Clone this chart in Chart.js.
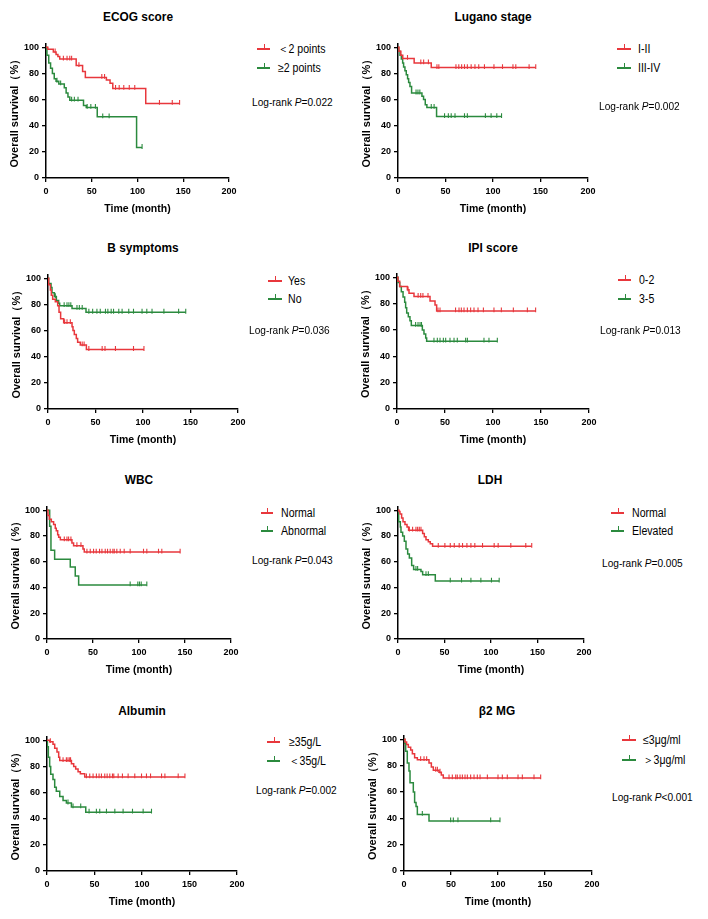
<!DOCTYPE html>
<html>
<head>
<meta charset="utf-8">
<script src="https://cdn.jsdelivr.net/npm/chart.js@4.4.0/dist/chart.umd.min.js"></script>
<style>
  body { margin: 0; background: #fff; font-family: "Liberation Sans", Arial, sans-serif; }
  #fig { position: relative; width: 708px; height: 919px; overflow: hidden; background: #fff; }
  canvas { position: absolute; }
  .t { position: absolute; white-space: nowrap; color: #000; line-height: 1; }
  .ttl { font-weight: bold; font-size: 13.5px; transform: translate(-50%, -50%) scaleX(.88); }
  .lg { font-size: 12px; transform: translateY(-50%) scaleX(.88); transform-origin: left center; }
  .lr { font-size: 11.5px; transform: translateY(-50%) scaleX(.88); transform-origin: left center; }
  .mk { position: absolute; height: 1.5px; }
  .mk i { position: absolute; left: 50%; top: -4px; width: 1.2px; height: 4px; }
</style>
</head>
<body>
<div id="fig"></div>
<script>
// ---- data: event times (month), survival (%) after each event, censor times ----
const ecogLowT = [2, 8, 11, 13, 15, 33, 40, 43, 66, 70, 73, 109];
const ecogLowS = [98.5, 96.5, 94.5, 93, 91, 86, 81.5, 77, 75, 72.5, 68.5, 57];
const ecogLowC = [10, 19, 23, 26, 28, 36, 61, 64, 76, 80, 85, 91, 97, 124, 138, 146];
const ecogHighT = [1, 3, 5, 7, 9, 11, 14, 20, 22, 24, 26, 41, 44, 56, 99];
const ecogHighS = [94, 88, 84, 80, 76, 74, 72, 69, 65, 62, 59.5, 55.5, 54, 46.8, 23.3];
const ecogHighC = [12, 16, 28, 31, 35, 45, 49, 54, 62, 69, 105];

const lugEarlyT = [1, 3, 5, 17, 35];
const lugEarlyS = [97, 94, 91.5, 88, 84.5];
const lugEarlyC = [10, 24, 27, 32, 41, 43, 61, 64, 67, 70, 73, 77, 81, 85, 91, 101, 110, 121, 124, 138, 145];
const lugLateT = [0.7, 2.1, 3.5, 4.9, 5.9, 7.3, 8.7, 10.1, 11.2, 12.6, 14.3, 25.2, 26.9, 28.7, 30.4, 40.6];
const lugLateS = [97, 94, 91, 88, 85, 82, 79, 76, 73, 70, 65, 62.5, 60, 56, 54, 47];
const lugLateC = [19, 21, 23, 35, 38, 49, 53, 56, 60, 70, 73, 92, 98, 104, 109];

const bYesT = [0.7, 2.5, 3.5, 4.9, 7.7, 10.2, 11.6, 13.3, 16.5, 25.3, 26.3, 27.7, 29.8, 31.2, 34, 40.4];
const bYesS = [95, 91, 87, 84, 82, 79, 74, 69, 66, 63, 60, 57, 54, 51, 49, 45.5];
const bYesC = [17.5, 20, 23.5, 36, 38, 43, 57, 60, 71, 90, 101];
const bNoT = [0.7, 3.2, 4.2, 6.7, 8.8, 11.2, 12.3, 25.3, 40];
const bNoS = [96, 93, 89, 86, 83, 81, 79, 77, 74];
const bNoC = [7.7, 17, 20, 22, 24, 30.5, 33, 36, 43, 47, 51.5, 55, 60.5, 63, 66.5, 69, 74.5, 78, 85, 90, 99, 104, 109.5, 122, 137.5, 145];

const ipiLowT = [1, 2.8, 10.8, 12.5, 17.7, 34.4, 39.6, 41.3];
const ipiLowS = [97, 93, 90.5, 88, 85.5, 82, 79, 74.5];
const ipiLowC = [11.5, 22, 24.7, 27, 32.3, 42.7, 44.8, 61, 64.6, 67, 69.8, 73.3, 76.7, 80.2, 84.4, 90, 101, 108.7, 121.2, 135.8, 144.4];
const ipiHighT = [1, 2.8, 4.5, 6.3, 8, 9, 10.1, 11.8, 13.5, 14.9, 26.4, 28.1, 29.9, 30.9];
const ipiHighS = [96, 93, 89, 85, 81, 77, 73, 70, 67, 63.5, 60, 57, 54, 51.5];
const ipiHighC = [19.4, 21.9, 24, 25.5, 38.5, 42, 44.8, 48.3, 50.7, 55.2, 59.4, 62.8, 71.5, 73.3, 90.6, 95.8, 104.5];

const wbcNormT = [1.1, 2.5, 4.7, 7.2, 9, 10.1, 11.6, 12.7, 14.5, 27.1, 28.9, 39.1, 40.5];
const wbcNormS = [96, 93, 91, 89, 86, 84, 81, 79, 77, 74.5, 72.5, 70, 67.5];
const wbcNormC = [18.8, 21.7, 23.5, 26, 32.5, 36.9, 43.4, 47, 50.6, 53.5, 57.1, 59.7, 63.3, 65.8, 68.7, 71.6, 73.1, 75.9, 79.6, 83.9, 90.4, 104.9, 108.5, 121.2, 124.8, 144.7];
const wbcAbnT = [2.9, 4.3, 8.3, 25.3, 30.7, 34.4];
const wbcAbnS = [87.5, 69, 62, 56, 49, 42];
const wbcAbnC = [90.4, 98.7, 100.5, 102.4, 108.5];

const ldhNormT = [1.1, 2.1, 3.9, 5.4, 7.5, 9.7, 11.4, 26.5, 28.3, 30.1, 32.6, 34.7, 37.2];
const ldhNormS = [99, 97, 94, 91, 89, 87, 84.5, 82, 79.5, 77, 75.5, 74, 72];
const ldhNormC = [12.2, 15.7, 19.3, 21.1, 22.9, 24.7, 43.3, 50.4, 56.2, 60.5, 65.8, 69.4, 74.1, 78.4, 82.6, 90.9, 103.4, 107.7, 121.3, 137.4, 143.8];
const ldhElevT = [0.4, 0.7, 2.5, 3.2, 5, 6.8, 8.6, 10.4, 12.2, 14.7, 16.8, 24.7, 26.5, 40.1];
const ldhElevS = [96, 91, 87, 83, 80, 76, 70, 66, 63, 57, 54, 52.5, 50, 45];
const ldhElevC = [19.3, 21.1, 30.1, 32.6, 56.2, 68.3, 78.4, 89.1, 100.5, 108.8];

const albHighT = [2.8, 6.3, 8.1, 10.5, 12.3, 13.4, 25.7, 28.1, 30.2, 32.7, 35.1, 39.7];
const albHighS = [99, 97, 94, 91, 87, 84.5, 82, 80, 78, 76, 74.5, 72];
const albHighC = [3.5, 16.9, 20.4, 22.1, 23.9, 24.8, 41.5, 45, 48.5, 52, 54.8, 57.3, 60.8, 63.3, 66.1, 68.9, 70.3, 74.9, 79.4, 85.4, 92.4, 99.5, 104.7, 109, 120.6, 124.1, 138.1, 145.2];
const albLowT = [0.4, 1.4, 2.8, 3.9, 6.3, 8.1, 9.8, 13.4, 16.9, 20.4, 25.7, 40.8];
const albLowS = [95, 87, 80, 74, 70, 64, 61, 57, 54, 52, 49, 45];
const albLowC = [22.1, 27.4, 35.5, 44.3, 52, 55.5, 62.6, 71.4, 80.1, 90, 101.2, 110];

const b2mLowT = [1.1, 2.8, 4.6, 7.1, 8.9, 11.3, 14.2, 26.6, 29.1, 31.2, 37.2, 39.7, 41.8];
const b2mLowS = [98, 96, 94, 92, 89, 86, 84.5, 82, 79, 76.5, 75, 73, 70.7];
const b2mLowC = [17.7, 21.3, 24.1, 33.7, 35.5, 38.3, 47.9, 51.4, 55, 56.7, 59.6, 62.1, 64.9, 67.4, 70.9, 74.5, 78, 80.9, 88.7, 100, 104.6, 109.9, 121.3, 125.9, 138.3, 145.4];
const b2mHighT = [0.7, 1.8, 3.5, 5.3, 6.4, 9.9, 11.3, 12.8, 14.2, 26.6];
const b2mHighS = [97, 91, 82, 76, 67, 60, 52, 49, 43, 38];
const b2mHighC = [19.5, 49.6, 52.5, 57.4, 92.2, 102.1];

const titles = ['ECOG score', 'Lugano stage', 'B symptoms', 'IPI score', 'WBC', 'LDH', 'Albumin', 'β2 MG'];
const groupLabels = [
  ['＜2 points', '≥2 points'], ['I-II', 'III-IV'], ['Yes', 'No'], ['0-2', '3-5'],
  ['Normal', 'Abnormal'], ['Normal', 'Elevated'], ['≥35g/L', '＜35g/L'], ['≤3μg/ml', '＞3μg/ml']
];
const pValues = ['=0.022', '=0.002', '=0.036', '=0.013', '=0.043', '=0.005', '=0.002', '<0.001'];
const series = [
  [[ecogLowT, ecogLowS, ecogLowC], [ecogHighT, ecogHighS, ecogHighC]],
  [[lugEarlyT, lugEarlyS, lugEarlyC], [lugLateT, lugLateS, lugLateC]],
  [[bYesT, bYesS, bYesC], [bNoT, bNoS, bNoC]],
  [[ipiLowT, ipiLowS, ipiLowC], [ipiHighT, ipiHighS, ipiHighC]],
  [[wbcNormT, wbcNormS, wbcNormC], [wbcAbnT, wbcAbnS, wbcAbnC]],
  [[ldhNormT, ldhNormS, ldhNormC], [ldhElevT, ldhElevS, ldhElevC]],
  [[albHighT, albHighS, albHighC], [albLowT, albLowS, albLowC]],
  [[b2mLowT, b2mLowS, b2mLowC], [b2mHighT, b2mHighS, b2mHighC]]
];
const xTicks = [0, 50, 100, 150, 200];
const yTicks = [0, 20, 40, 60, 80, 100];

// ---- layout (page pixels) ----
const layout = [
  { x0: 46, x200: 229, y100: 47, y0: 178, tx: 138, ty: 17, l1: 257, l2: 270, ly: [49, 68], lt: 278, rx: 252, ry: 103 },
  { x0: 398, x200: 588, y100: 47, y0: 178, tx: 493, ty: 17, l1: 617, l2: 631, ly: [49, 68], lt: 638, rx: 599, ry: 107 },
  { x0: 48, x200: 238, y100: 278, y0: 409, tx: 143, ty: 248, l1: 268, l2: 282, ly: [281, 299], lt: 288, rx: 249, ry: 331 },
  { x0: 397, x200: 589, y100: 277, y0: 409, tx: 493, ty: 248, l1: 618, l2: 631, ly: [280, 299], lt: 639, rx: 600, ry: 331 },
  { x0: 47, x200: 231, y100: 510, y0: 639, tx: 139, ty: 480, l1: 261, l2: 273, ly: [513, 531], lt: 281, rx: 252, ry: 561 },
  { x0: 398, x200: 584, y100: 510, y0: 639, tx: 490, ty: 480, l1: 611, l2: 624, ly: [513, 531], lt: 632, rx: 602, ry: 564 },
  { x0: 47, x200: 237, y100: 740, y0: 871, tx: 142, ty: 711, l1: 267, l2: 280, ly: [742, 761], lt: 289, rx: 256, ry: 791 },
  { x0: 404, x200: 592, y100: 739, y0: 871, tx: 497, ty: 711, l1: 622, l2: 636, ly: [740, 760], lt: 643, rx: 612, ry: 798 }
];

const RED = '#e8373c';
const GREEN = '#2b8a3e';
const COLORS = [RED, GREEN];
const Y_MAX = 103;

Chart.defaults.font.family = "'Liberation Sans', Arial, sans-serif";
Chart.defaults.color = '#000';

const fig = document.getElementById('fig');

function stepData(t, s, c) {
  const pts = [{ x: 0, y: 100 }];
  t.forEach((v, i) => pts.push({ x: v, y: s[i] }));
  const end = Math.max(c[c.length - 1], t[t.length - 1]);
  pts.push({ x: end, y: s[s.length - 1] });
  return pts;
}

function survAt(t, s, time) {
  let v = 100;
  t.forEach((e, i) => { if (e <= time) v = s[i]; });
  return v;
}

function addText(cls, html, x, y) {
  const d = document.createElement('div');
  d.className = 't ' + cls;
  d.innerHTML = html;
  d.style.left = x + 'px';
  d.style.top = y + 'px';
  fig.appendChild(d);
}

function drawPanel(i) {
  const g = layout[i];
  const pxU = (g.y0 - g.y100) / 100;
  const chartTop = g.y100 - (Y_MAX - 100) * pxU;
  const padTop = 8, padRight = 14, axisW = 42, axisH = 41;

  const cv = document.createElement('canvas');
  const w = Math.round(axisW + (g.x200 - g.x0) + padRight);
  const h = Math.round(padTop + (g.y0 - chartTop) + axisH);
  cv.width = w;
  cv.height = h;
  cv.style.left = (g.x0 - axisW) + 'px';
  cv.style.top = Math.round(chartTop - padTop) + 'px';
  fig.appendChild(cv);

  const datasets = [];
  series[i].forEach(([t, s, c], k) => {
    datasets.push({
      data: stepData(t, s, c),
      borderColor: COLORS[k],
      borderWidth: 1.5,
      stepped: true,
      pointRadius: 0,
      fill: false
    });
    datasets.push({
      data: c.map(v => ({ x: v, y: survAt(t, s, v) + 0.8 })),
      showLine: false,
      pointStyle: 'line',
      rotation: 90,
      pointRadius: 2.4,
      borderColor: COLORS[k],
      borderWidth: 1.1
    });
  });

  new Chart(cv, {
    type: 'line',
    data: { datasets },
    options: {
      responsive: false,
      animation: false,
      devicePixelRatio: 1,
      layout: { padding: { top: padTop, right: padRight, left: 0, bottom: 0 } },
      plugins: { legend: { display: false }, tooltip: { enabled: false } },
      scales: {
        x: {
          type: 'linear', min: 0, max: 200,
          afterBuildTicks: s => { s.ticks = xTicks.map(v => ({ value: v })); },
          afterFit: s => { s.height = axisH; },
          ticks: { font: { size: 9, weight: 'bold' }, padding: 4, maxRotation: 0 },
          grid: { drawOnChartArea: false, drawTicks: true, tickLength: 4, color: '#000', lineWidth: 1.3 },
          border: { color: '#000', width: 1.5 },
          title: { display: true, text: 'Time (month)', font: { size: 10.5, weight: 'bold' }, padding: { top: 4, bottom: 4 } }
        },
        y: {
          type: 'linear', min: 0, max: Y_MAX,
          afterBuildTicks: s => { s.ticks = yTicks.map(v => ({ value: v })); },
          afterFit: s => { s.width = axisW; },
          ticks: { font: { size: 9, weight: 'bold' }, padding: 3 },
          grid: { drawOnChartArea: false, drawTicks: true, tickLength: 4, color: '#000', lineWidth: 1.3 },
          border: { color: '#000', width: 1.5 },
          title: { display: true, text: 'Overall survival（%）', font: { size: 11, weight: 'bold' }, padding: { top: 4, bottom: 4 } }
        }
      }
    }
  });

  // title, legend, log-rank text
  addText('ttl', titles[i], g.tx, g.ty);
  groupLabels[i].forEach((lab, k) => {
    const m = document.createElement('div');
    m.className = 'mk';
    m.style.background = COLORS[k];
    m.style.left = g.l1 + 'px';
    m.style.top = (g.ly[k] - 0.75) + 'px';
    m.style.width = (g.l2 - g.l1) + 'px';
    const tick = document.createElement('i');
    tick.style.background = COLORS[k];
    m.appendChild(tick);
    fig.appendChild(m);
    addText('lg', lab, g.lt, g.ly[k]);
  });
  const p = pValues[i].replace('<', '&lt;');
  addText('lr', 'Log-rank <i>P</i>' + p, g.rx, g.ry);
}

layout.forEach((_, i) => drawPanel(i));
</script>
</body>
</html>
